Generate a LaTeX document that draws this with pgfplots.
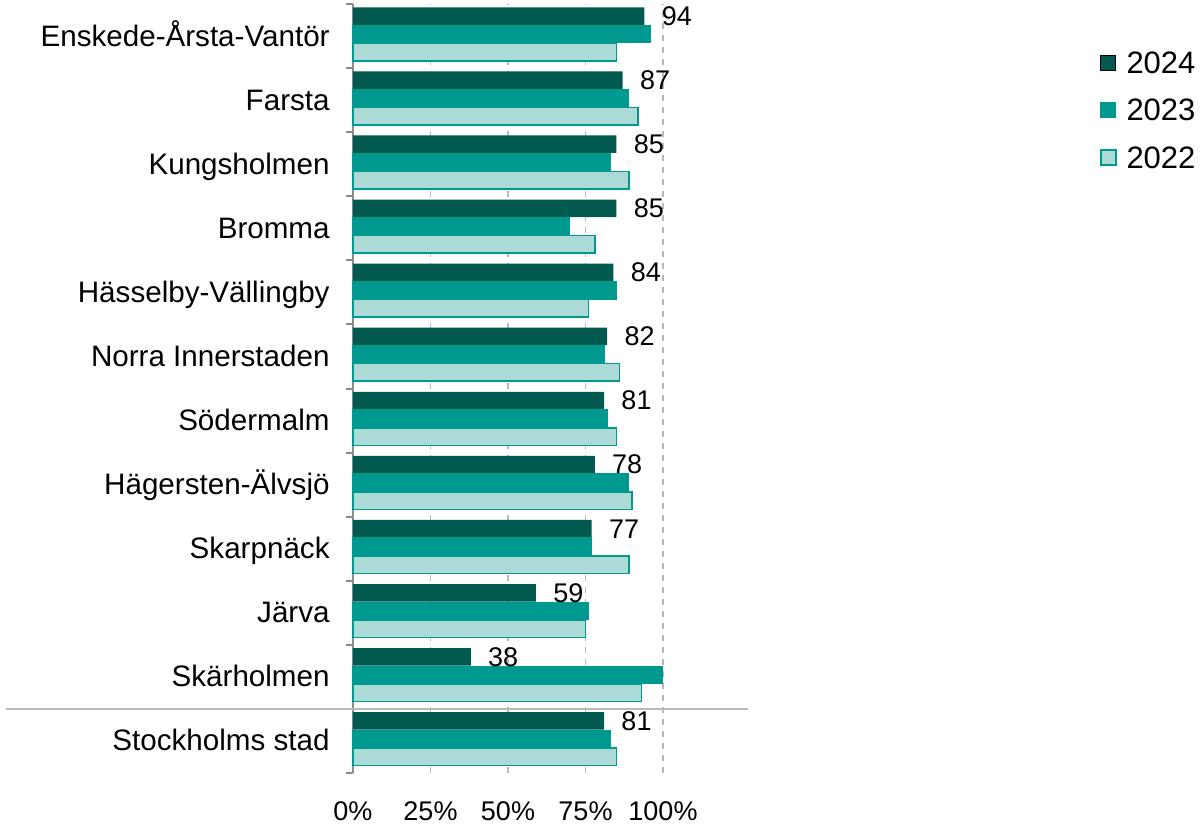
\documentclass[border=0pt]{standalone}
\usepackage{pgfplots}
\pgfplotsset{compat=1.18}
\usepackage{pgfplotstable}
\usepackage{fontspec}
\setmainfont{Liberation Sans}
\definecolor{c24}{HTML}{005A4F}
\definecolor{c23}{HTML}{00998F}
\definecolor{c22}{HTML}{ACDAD6}
\definecolor{axgray}{HTML}{8C8C8C}

\pgfplotstableread{
y v24 v23 v22
11 94 96 85
10 87 89 92
9 85 83 89
8 85 70 78
7 84 85 76
6 82 81 86
5 81 82 85
4 78 89 90
3 77 77 89
2 59 76 75
1 38 100 93
0 81 83 85
}\data

\begin{document}
\begin{tikzpicture}
\begin{axis}[
  xbar,
  scale only axis, width=155pt, height=384.5pt,
  xmin=0, xmax=100, ymin=-0.5, ymax=11.5,
  clip=false,
  axis y line*=left, axis x line*=bottom,
  separate axis lines,
  x axis line style={draw=none},
  y axis line style={axgray, line width=1pt},
  xtick={0,25,50,75,100},
  xticklabels={0\%,25\%,50\%,75\%,100\%},
  xtick style={draw=none},
  xticklabel style={font=\fontsize{13.5}{15}\selectfont, anchor=base, yshift=-23.5pt, inner sep=0pt},
  xmajorgrids,
  major grid style={dashed, gray!55, line width=0.6pt},
  ytick={0,...,11},
  yticklabels={Stockholms stad, Skärholmen, Järva, Skarpnäck, Hägersten-Älvsjö, Södermalm, Norra Innerstaden, Hässelby-Vällingby, Bromma, Kungsholmen, Farsta, Enskede-Årsta-Vantör},
  yticklabel style={font=\fontsize{14.8}{17}\selectfont, anchor=base east, inner sep=0pt, xshift=-11.5pt, yshift=-5pt},
  major tick length=0pt,
  minor tick length=3.5pt,
  tick align=outside,
  minor ytick={-0.5,0.5,...,11.5},
  ytick style={axgray, line width=1pt},
  /pgf/number format/assume math mode=true,
  legend style={draw=none, fill=none, inner sep=0pt, outer sep=0pt,
    at={(2.4097,0.9376)}, anchor=north west,
    font=\fontsize{15.5}{17}\selectfont, row sep=11.3pt, column sep=5pt,
    nodes={inner sep=0pt}},
  legend cell align=left,
  legend image code/.code={\draw[#1] (0pt,-3.15pt) rectangle (7.5pt,4.35pt);},
]
\addplot[fill=c24, draw=none, bar width=8.75pt, bar shift=10pt,
  nodes near coords,
  nodes near coords style={anchor=west, inner sep=0pt, xshift=8.5pt, font=\fontsize{13.5}{15}\selectfont, text=black}]
  table[x=v24, y=y]{\data};
\addlegendentry{2024}
\addplot[fill=c23, draw=c23, line width=0.5pt, bar width=8.75pt, bar shift=1pt]
  table[x=v23, y=y]{\data};
\addlegendentry{2023}
\addplot[fill=c22, draw=c23, line width=0.75pt, bar width=8.75pt, bar shift=-8pt]
  table[x=v22, y=y]{\data};
\addlegendentry{2022}
\draw[gray!55, line width=1.1pt] (axis cs:-112,0.5) -- (axis cs:127.5,0.5);
\coordinate (BL) at (rel axis cs:0,0);
\coordinate (TR) at (rel axis cs:1,1);
\end{axis}
\pgfresetboundingbox
\path ([shift={(-176.5pt,-26.5pt)}]BL) rectangle ([shift={(270.5pt,2pt)}]TR);
\end{tikzpicture}
\end{document}
